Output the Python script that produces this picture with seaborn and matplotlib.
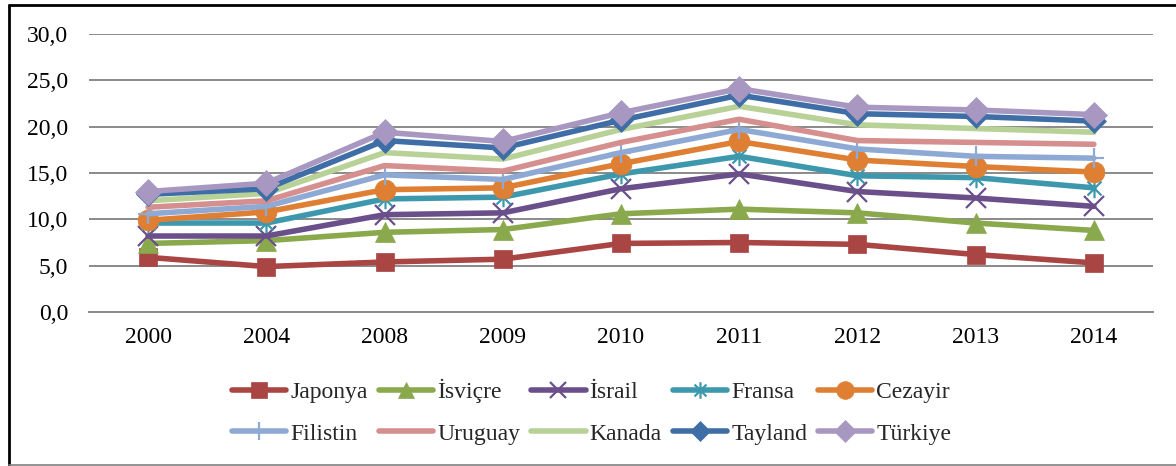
import matplotlib
matplotlib.use("Agg")
import matplotlib.pyplot as plt
from matplotlib.lines import Line2D
from matplotlib.path import Path
from matplotlib.ticker import FixedLocator, FuncFormatter
import seaborn as sns
import pandas as pd

years = ["2000", "2004", "2008", "2009", "2010", "2011", "2012", "2013", "2014"]
countries = ["Japonya", "İsviçre", "İsrail", "Fransa", "Cezayir",
             "Filistin", "Uruguay", "Kanada", "Tayland", "Türkiye"]

japonya  = [5.9, 4.9, 5.4, 5.7, 7.4, 7.5, 7.3, 6.2, 5.3]
isvicre  = [7.4, 7.7, 8.6, 8.9, 10.6, 11.1, 10.7, 9.6, 8.8]
israil   = [8.2, 8.2, 10.5, 10.7, 13.3, 14.9, 13.0, 12.3, 11.4]
fransa   = [9.6, 9.6, 12.2, 12.4, 14.9, 16.8, 14.7, 14.5, 13.4]
cezayir  = [9.9, 10.8, 13.2, 13.4, 16.0, 18.4, 16.4, 15.7, 15.1]
filistin = [10.6, 11.4, 14.8, 14.3, 17.2, 19.7, 17.6, 16.8, 16.6]
uruguay  = [11.3, 12.0, 15.8, 15.2, 18.3, 20.8, 18.5, 18.3, 18.1]
kanada   = [12.0, 12.8, 17.2, 16.5, 19.7, 22.2, 20.2, 19.8, 19.4]
tayland  = [12.7, 13.3, 18.5, 17.7, 20.7, 23.4, 21.4, 21.1, 20.6]
turkiye  = [13.0, 13.9, 19.4, 18.4, 21.5, 24.1, 22.1, 21.8, 21.3]

series = [japonya, isvicre, israil, fransa, cezayir,
          filistin, uruguay, kanada, tayland, turkiye]

colors = ["#A94542", "#89A94C", "#6A4F8A", "#3D98AE", "#DF7F33",
          "#8EA9D3", "#D48F8E", "#B8D197", "#3F6EA7", "#A898C1"]

star = Path([(0, -1), (0, 1), (-0.72, -0.72), (0.72, 0.72), (-0.72, 0.72), (0.72, -0.72)],
            [Path.MOVETO, Path.LINETO, Path.MOVETO, Path.LINETO, Path.MOVETO, Path.LINETO])
markers = ["s", "^", "x", star, "o", "+", None, None, "D", "D"]
msizes = [13, 14, 14, 14, 15, 15, 0, 0, 12, 13]

rows = []
for c, vals in zip(countries, series):
    for y, v in zip(years, vals):
        rows.append({"country": c, "year": y, "value": v})
df = pd.DataFrame(rows)

sns.set_style("white")
serif = ["Liberation Serif", "DejaVu Serif"]
plt.rcParams["font.family"] = serif
FS = 17

fig = plt.figure(figsize=(11.76, 4.66), dpi=100)
ax = fig.add_axes([89 / 1176, 1 - 312 / 466, (1153 - 89) / 1176, (312 - 34) / 466])
ax.set_axisbelow(True)

for c, col, m, ms in zip(countries, colors, markers, msizes):
    d = df[df["country"] == c]
    kw = dict(color=col, linewidth=4.0, label=c,
              solid_capstyle="round", solid_joinstyle="round")
    if m is not None:
        kw.update(marker=m, markersize=ms, markeredgecolor=col, markerfacecolor=col)
        if m in ("x", "+") or m is star:
            kw.update(markeredgewidth=1.6, markerfacecolor="none")
        else:
            kw.update(markeredgewidth=0.5)
    sns.lineplot(data=d, x="year", y="value", ax=ax, **kw)

ax.set_xlim(-0.5, len(years) - 0.5)
ax.set_ylim(0, 30)
ax.set_yticks([0, 5, 10, 15, 20, 25, 30])
ax.yaxis.set_major_formatter(FuncFormatter(lambda v, p: f"{v:.1f}".replace(".", ",")))
ax.grid(axis="y", color="#8A8A8A", linewidth=1.4)
ax.grid(axis="x", visible=False)
ax.set_xlabel("")
ax.set_ylabel("")

for s in ["top", "right", "left"]:
    ax.spines[s].set_visible(False)
ax.spines["bottom"].set_color("#8A8A8A")
ax.spines["bottom"].set_linewidth(1.4)

ax.xaxis.set_minor_locator(FixedLocator([i - 0.5 for i in range(len(years) + 1)]))
ax.tick_params(axis="x", which="minor", length=6, width=1.4, color="#8A8A8A", direction="out")
ax.tick_params(axis="x", which="major", length=0, pad=11, labelsize=FS, colors="black")
ax.tick_params(axis="y", which="major", length=0, pad=15, labelsize=FS, colors="black")
for t in ax.get_xticklabels() + ax.get_yticklabels():
    t.set_fontfamily(serif)

handles, labels = ax.get_legend_handles_labels()
order = [0, 5, 1, 6, 2, 7, 3, 8, 4, 9]
leg = ax.legend([handles[i] for i in order], [labels[i] for i in order],
                ncol=5, loc="upper left", bbox_to_anchor=(232 / 1176, 1 - 379 / 466),
                bbox_transform=fig.transFigure, frameon=False,
                prop={"family": serif, "size": FS},
                handlelength=2.3, handletextpad=0.17, columnspacing=0.47,
                labelspacing=0.85, markerscale=0.85, borderpad=0, borderaxespad=0)

# outer chart border
fig.add_artist(Line2D([8.5 / 1176, 8.5 / 1176], [1 - 4.5 / 466, 1 - 465 / 466],
                      transform=fig.transFigure, color="black", linewidth=2))
fig.add_artist(Line2D([8.5 / 1176, 1.0], [1 - 4.5 / 466, 1 - 4.5 / 466],
                      transform=fig.transFigure, color="black", linewidth=2))
fig.add_artist(Line2D([8.5 / 1176, 1.0], [1 - 465 / 466, 1 - 465 / 466],
                      transform=fig.transFigure, color="#808080", linewidth=1.2))

fig.savefig("out.png", dpi=100)
